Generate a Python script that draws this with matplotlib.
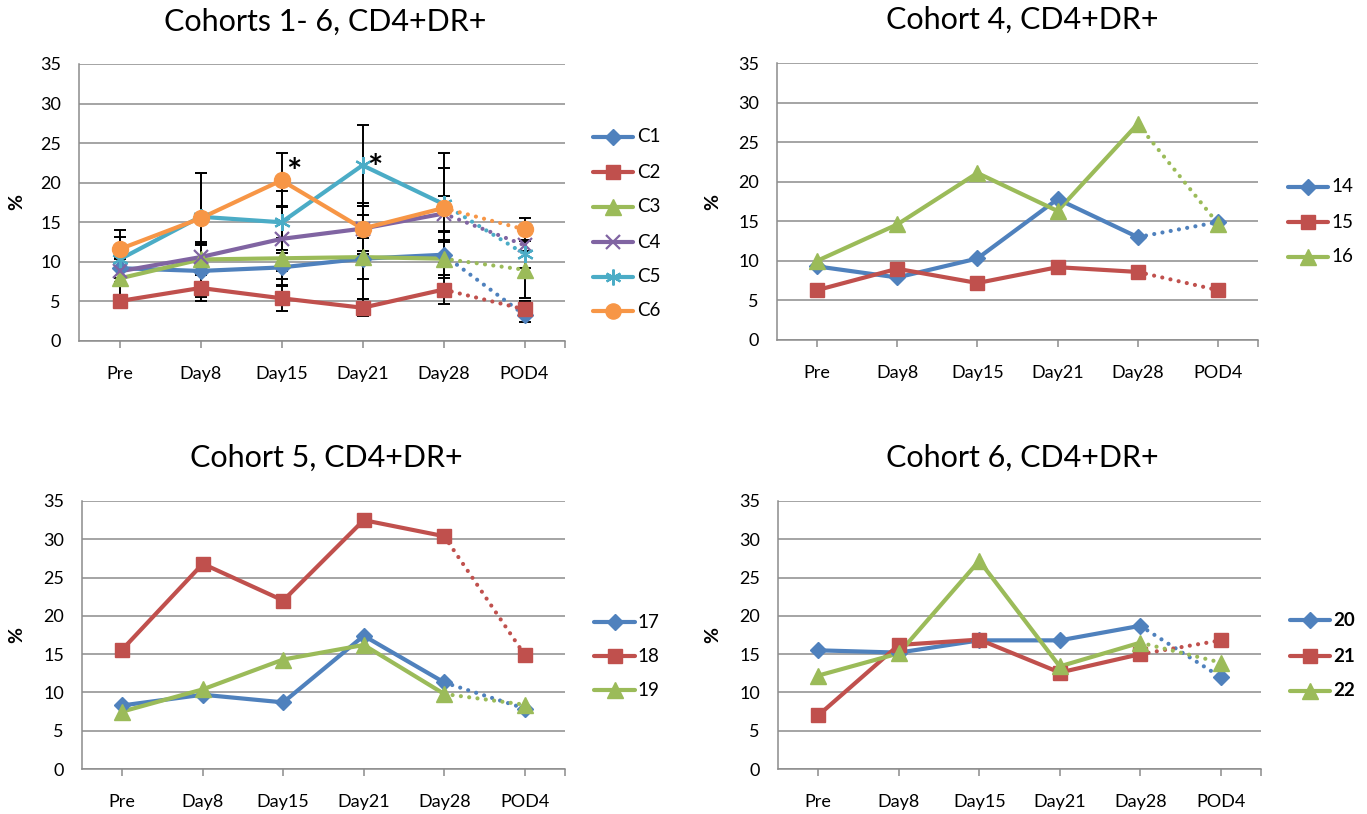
import matplotlib
matplotlib.use("Agg")
import matplotlib.pyplot as plt
from matplotlib.lines import Line2D

plt.rcParams['font.family'] = ['Lato', 'DejaVu Sans']

# ---------------- data ----------------
categories = ["Pre", "Day8", "Day15", "Day21", "Day28", "POD4"]

# Cohorts 1-6 (means) and error bars
c1 = [9.2, 8.85, 9.3, 10.4, 10.9, 3.3]
c2 = [5.05, 6.7, 5.4, 4.2, 6.5, 4.0]
c3 = [7.9, 10.3, 10.45, 10.6, 10.4, 9.0]
c4 = [8.8, 10.6, 12.9, 14.2, 16.1, 12.1]
c5 = [10.3, 15.7, 15.0, 22.2, 17.3, 11.0]
c6 = [11.6, 15.5, 20.3, 14.2, 16.8, 14.1]
c1_err = [1.3, 3.25, 2.2, 2.6, 2.9, 0.9]
c2_err = [0.8, 1.7, 1.6, 1.1, 1.8, 1.0]
c3_err = [2.6, 2.0, 2.6, 5.3, 2.1, 3.6]
c4_err = [1.5, 1.9, 4.1, 2.8, 2.2, 0.7]
c5_err = [2.9, 5.5, 3.9, 5.1, 4.5, 1.8]
c6_err = [2.4, 5.7, 3.4, 3.2, 7.0, 1.4]
cohort_labels = ["C1", "C2", "C3", "C4", "C5", "C6"]
# significance marks: (series index, category index)
star_marks = [(5, 2), (4, 3)]

# Cohort 4 subjects
p14 = [9.3, 7.9, 10.3, 17.8, 13.0, 14.9]
p15 = [6.3, 9.0, 7.2, 9.2, 8.6, 6.3]
p16 = [10.0, 14.6, 21.1, 16.3, 27.3, 14.7]
# Cohort 5 subjects
p17 = [8.3, 9.7, 8.7, 17.4, 11.3, 7.9]
p18 = [15.6, 26.8, 22.0, 32.5, 30.4, 14.9]
p19 = [7.5, 10.4, 14.3, 16.2, 9.8, 8.4]
# Cohort 6 subjects
p20 = [15.5, 15.2, 16.8, 16.8, 18.7, 12.0]
p21 = [7.0, 16.2, 16.9, 12.6, 15.0, 16.8]
p22 = [12.2, 15.1, 27.2, 13.4, 16.5, 13.9]

yticks = [0, 5, 10, 15, 20, 25, 30, 35]

# ---------------- styles ----------------
BLUE, RED, GREEN = "#4F81BD", "#C0504D", "#9BBB59"
PURPLE, CYAN, ORANGE = "#8064A2", "#4BACC6", "#F79646"
GRID = "#8c8c8c"
W, H = 1367, 814
star_offsets = [(9, 5), (9, -3)]  # label offsets in points

styles6 = [
    dict(color=BLUE, marker="D", ms=8.5),
    dict(color=RED, marker="s", ms=10.5),
    dict(color=GREEN, marker="^", ms=11.5),
    dict(color=PURPLE, marker="x", ms=10, mew=1.6),
    dict(color=CYAN, marker=(6, 2, 0), ms=12, mew=1.6),
    dict(color=ORANGE, marker="o", ms=11.5),
]
styles3 = styles6[:3]

fig = plt.figure(figsize=(W / 100, H / 100), dpi=100)


def box(l, t, r, b):
    return [l / W, 1 - b / H, (r - l) / W, (b - t) / H]


def setup(ax, ylab_px):
    ax.set_xlim(-0.5, 5.5)
    ax.set_ylim(0, 35)
    ax.set_yticks(yticks)
    ax.set_xticks(range(len(categories)))
    ax.set_xticklabels(categories)
    ax.set_xticks([5.5], minor=True)
    ax.grid(axis="y", color=GRID, lw=1.1)
    ax.set_axisbelow(True)
    for s in ["top", "right"]:
        ax.spines[s].set_visible(False)
    for s in ["left", "bottom"]:
        ax.spines[s].set_color(GRID)
        ax.spines[s].set_linewidth(1.1)
    ax.tick_params(axis="y", length=0, pad=13, labelsize=13, colors="black")
    ax.tick_params(axis="x", which="both", length=5, width=1.1, color=GRID,
                   pad=13, labelsize=13, labelcolor="black")
    ax.set_ylabel("%", fontsize=14, fontweight="bold", rotation=90)
    x0 = ax.get_position().x0 * W
    ax.yaxis.set_label_coords((ylab_px - x0) / (ax.get_position().width * W), 0.5)


def plot_series(ax, vals, st, err=None):
    n = len(vals)
    xs = list(range(n))
    ms = st.get("ms", 9)
    mew = st.get("mew", 1.0)
    if err is not None:
        ax.errorbar(xs, vals, yerr=err, fmt="none", ecolor="black",
                    elinewidth=1.4, capsize=4, capthick=1.4, zorder=2)
    ax.plot(xs[:-1], vals[:-1], color=st["color"], lw=3.0, zorder=3,
            solid_capstyle="round", solid_joinstyle="round")
    ax.plot(xs[-2:], vals[-2:], color=st["color"], lw=3.0, zorder=3,
            linestyle=(0, (0.01, 2.0)), dash_capstyle="round")
    ax.plot(xs, vals, linestyle="none", marker=st["marker"], ms=ms,
            mfc=st["color"], mec=st["color"], mew=mew, zorder=4)


def legend(labels, sts, x0, x1, xt, ys, bold=False):
    for lab, st, y in zip(labels, sts, ys):
        fy = 1 - y / H
        fig.add_artist(Line2D([x0 / W, x1 / W], [fy, fy], transform=fig.transFigure,
                              color=st["color"], lw=3.0, solid_capstyle="round"))
        fig.add_artist(Line2D([(x0 + x1) / 2 / W], [fy], transform=fig.transFigure,
                              linestyle="none", marker=st["marker"],
                              ms=st.get("ms", 9) * 0.95, mfc=st["color"],
                              mec=st["color"], mew=st.get("mew", 1.0)))
        fig.text(xt / W, fy, lab, ha="left", va="center", fontsize=13.5,
                 fontweight="bold" if bold else "normal")


def title(text, cx, cy):
    fig.text(cx / W, 1 - cy / H, text, ha="center", va="center", fontsize=22)


# ---- panel 1: cohorts 1-6 ----
ax1 = fig.add_axes(box(79, 64, 565, 341))
setup(ax1, 25)
series6 = [c1, c2, c3, c4, c5, c6]
errs6 = [c1_err, c2_err, c3_err, c4_err, c5_err, c6_err]
for v, e, st in zip(series6, errs6, styles6):
    plot_series(ax1, v, st, e)
for (si, ci), off in zip(star_marks, star_offsets):
    ax1.annotate("*", xy=(ci, series6[si][ci]), xytext=off,
                 textcoords="offset points", fontsize=26, fontweight="bold",
                 ha="center", va="center", zorder=6)
title("Cohorts 1- 6, CD4+DR+", 325, 22)
legend(cohort_labels, styles6, 593, 633, 637, [137, 172, 207, 242, 277, 311])

# ---- panel 2: cohort 4 ----
ax2 = fig.add_axes(box(777, 63, 1258, 340))
setup(ax2, 721)
for v, st in zip([p14, p15, p16], styles3):
    plot_series(ax2, v, st)
title("Cohort 4, CD4+DR+", 1022, 20)
legend(["14", "15", "16"], styles3, 1288, 1328, 1331, [187, 222, 257])

# ---- panel 3: cohort 5 ----
ax3 = fig.add_axes(box(82, 501, 565, 769))
setup(ax3, 25)
for v, st in zip([p17, p18, p19], styles3):
    plot_series(ax3, v, st)
title("Cohort 5, CD4+DR+", 326, 458)
legend(["17", "18", "19"], styles3, 594, 635, 637, [622, 656, 690])

# ---- panel 4: cohort 6 ----
ax4 = fig.add_axes(box(778, 501, 1261, 769))
setup(ax4, 721)
for v, st in zip([p20, p21, p22], styles3):
    plot_series(ax4, v, st)
title("Cohort 6, CD4+DR+", 1022, 458)
legend(["20", "21", "22"], styles3, 1290, 1330, 1333, [620, 656, 691], bold=True)

fig.savefig("out.png", dpi=100)
